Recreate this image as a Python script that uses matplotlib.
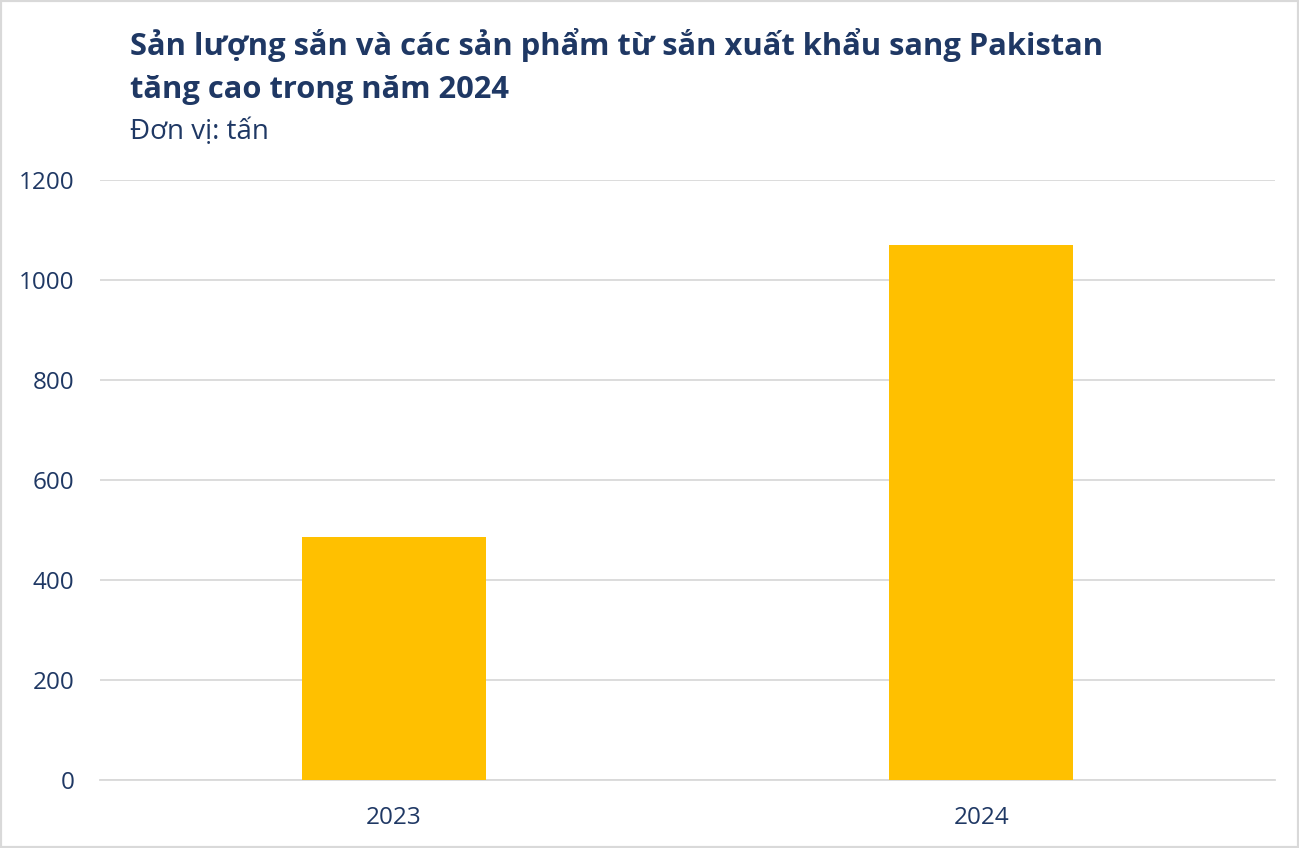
import matplotlib
matplotlib.use("Agg")
import matplotlib.pyplot as plt
from matplotlib.patches import Rectangle

categories = ["2023", "2024"]
values = [486, 1070]
yticks = [0, 200, 400, 600, 800, 1000, 1200]

title_line1 = "Sản lượng sắn và các sản phẩm từ sắn xuất khẩu sang Pakistan"
title_line2 = "tăng cao trong năm 2024"
subtitle = "Đơn vị: tấn"

navy = "#1F3864"
plt.rcParams['font.family'] = ['Open Sans', 'DejaVu Sans']

W, H = 1299, 848
fig = plt.figure(figsize=(W / 100, H / 100), dpi=100)
fig.patch.set_facecolor("white")
ax = fig.add_axes([100 / W, (H - 780) / H, (1275 - 100) / W, 600 / H])

x = list(range(len(categories)))
ax.bar(x, values, width=0.313, color="#FFC000", zorder=3)
ax.set_xlim(-0.5, 1.5)
ax.set_ylim(0, 1200)
ax.set_yticks(yticks)
ax.set_yticklabels([str(t) for t in yticks])
ax.set_xticks(x)
ax.set_xticklabels(categories)
ax.grid(axis="y", color="#D9D9D9", linewidth=1.3, zorder=0)
for s in ["top", "right", "left"]:
    ax.spines[s].set_visible(False)
ax.spines["bottom"].set_color("#D9D9D9")
ax.spines["bottom"].set_linewidth(1.3)
ax.tick_params(axis="both", length=0, labelsize=17.5, colors=navy)
ax.tick_params(axis="y", pad=18.5)
ax.tick_params(axis="x", pad=19)
for lab in ax.get_yticklabels():
    lab.set_horizontalalignment("right")

fig.text(130 / W, 1 - 45 / H, title_line1, fontsize=22.2, fontweight="bold",
         color=navy, va="center", ha="left")
fig.text(130 / W, 1 - 90 / H, title_line2, fontsize=22.2, fontweight="bold",
         color=navy, va="center", ha="left")
fig.text(130 / W, 1 - 132 / H, subtitle, fontsize=20, color=navy,
         va="center", ha="left")

fig.add_artist(Rectangle((0, 0), 1, 1, transform=fig.transFigure,
                         fill=False, edgecolor="#D9D9D9", linewidth=3))

fig.savefig("out.png", dpi=100)
